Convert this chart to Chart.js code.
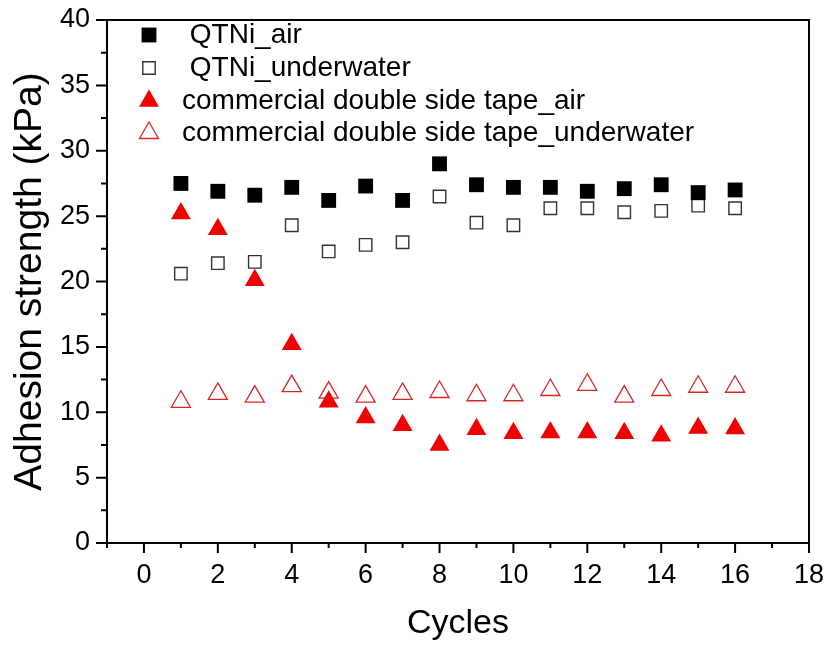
<!DOCTYPE html>
<html>
<head>
<meta charset="utf-8">
<title>Adhesion strength vs cycles</title>
<script src="https://cdn.jsdelivr.net/npm/chart.js@4.4.1/dist/chart.umd.min.js"></script>
<style>
  html, body { margin: 0; padding: 0; background: #fff; }
  #wrap { width: 829px; height: 648px; position: relative; }
</style>
</head>
<body>
<div id="wrap"><canvas id="adhesionChart"></canvas></div>
<script>
// Adhesion strength over repeated cycles, QTNi vs commercial tape
const cycles = [1, 2, 3, 4, 5, 6, 7, 8, 9, 10, 11, 12, 13, 14, 15, 16];
const qtniAir = [27.5, 26.9, 26.6, 27.2, 26.2, 27.3, 26.2, 29.0, 27.4, 27.2, 27.2, 26.9, 27.1, 27.4, 26.8, 27.0];
const qtniUnderwater = [20.6, 21.4, 21.5, 24.3, 22.3, 22.8, 23.0, 26.5, 24.5, 24.3, 25.6, 25.6, 25.3, 25.4, 25.8, 25.6];
const tapeAir = [25.2, 24.0, 20.1, 15.2, 10.8, 9.6, 9.0, 7.5, 8.7, 8.4, 8.45, 8.45, 8.4, 8.2, 8.8, 8.75];
const tapeUnderwater = [10.8, 11.4, 11.2, 12.0, 11.5, 11.2, 11.4, 11.55, 11.3, 11.3, 11.7, 12.1, 11.2, 11.7, 11.95, 11.95];

const xTicks = [0, 2, 4, 6, 8, 10, 12, 14, 16, 18];
const yTicks = [0, 5, 10, 15, 20, 25, 30, 35, 40];

const FONT = "'Liberation Sans', Arial, sans-serif";
const RED = '#f00000';

function toPoints(values) {
  return cycles.map((c, i) => ({ x: c, y: values[i] }));
}

// marker shapes, same geometry Chart.js uses for its point styles
function drawMarker(ctx, ds, x, y) {
  const r = ds.pointRadius;
  ctx.save();
  ctx.beginPath();
  if (ds.pointStyle === 'rect') {
    const s = r * Math.SQRT1_2;
    ctx.rect(x - s, y - s, 2 * s, 2 * s);
  } else {
    let a = 0;
    ctx.moveTo(x + Math.sin(a) * r, y - Math.cos(a) * r);
    a += 2 * Math.PI / 3;
    ctx.lineTo(x + Math.sin(a) * r, y - Math.cos(a) * r);
    a += 2 * Math.PI / 3;
    ctx.lineTo(x + Math.sin(a) * r, y - Math.cos(a) * r);
    ctx.closePath();
  }
  if (ds.backgroundColor && ds.backgroundColor !== 'transparent') {
    ctx.fillStyle = ds.backgroundColor;
    ctx.fill();
  }
  if (ds.borderWidth > 0) {
    ctx.lineWidth = ds.borderWidth;
    ctx.strokeStyle = ds.borderColor;
    ctx.stroke();
  }
  ctx.restore();
}

// box frame plus outward major/minor ticks
const frameTicks = {
  id: 'frameTicks',
  afterDatasetsDraw(chart) {
    const { ctx, chartArea: a, scales: { x, y } } = chart;
    ctx.save();
    ctx.strokeStyle = '#000';
    ctx.lineWidth = 2;
    ctx.strokeRect(a.left, a.top, a.right - a.left, a.bottom - a.top);
    ctx.beginPath();
    for (let v = -1; v <= 18; v++) {
      const px = x.getPixelForValue(v);
      const len = v % 2 === 0 ? 10 : 5;
      ctx.moveTo(px, a.bottom);
      ctx.lineTo(px, a.bottom + len);
    }
    for (let v = 0; v <= 40; v += 2.5) {
      const py = y.getPixelForValue(v);
      const len = v % 5 === 0 ? 11 : 6;
      ctx.moveTo(a.left, py);
      ctx.lineTo(a.left - len, py);
    }
    ctx.stroke();
    ctx.restore();
  }
};

// legend in the upper-left corner of the plot
const insetLegend = {
  id: 'insetLegend',
  afterDatasetsDraw(chart) {
    const { ctx } = chart;
    const rows = [35, 68, 101, 133];
    ctx.save();
    ctx.font = '28px ' + FONT;
    ctx.fillStyle = '#000';
    ctx.textBaseline = 'middle';
    ctx.textAlign = 'left';
    chart.data.datasets.forEach((ds, i) => {
      drawMarker(ctx, ds, 149, rows[i]);
      ctx.fillText(ds.label, 182, rows[i]);
    });
    ctx.restore();
  }
};

const ctx = document.getElementById('adhesionChart').getContext('2d');
new Chart(ctx, {
  type: 'scatter',
  data: {
    datasets: [
      {
        label: ' QTNi_air',
        data: toPoints(qtniAir),
        pointStyle: 'rect',
        pointRadius: 10.5,
        backgroundColor: '#000',
        borderColor: '#000',
        borderWidth: 0
      },
      {
        label: ' QTNi_underwater',
        data: toPoints(qtniUnderwater),
        pointStyle: 'rect',
        pointRadius: 8.8,
        backgroundColor: 'transparent',
        borderColor: '#333',
        borderWidth: 1.4
      },
      {
        label: 'commercial double side tape_air',
        data: toPoints(tapeAir),
        pointStyle: 'triangle',
        pointRadius: 11.5,
        backgroundColor: RED,
        borderColor: RED,
        borderWidth: 0
      },
      {
        label: 'commercial double side tape_underwater',
        data: toPoints(tapeUnderwater),
        pointStyle: 'triangle',
        pointRadius: 11,
        backgroundColor: 'transparent',
        borderColor: '#d42828',
        borderWidth: 1.3
      }
    ]
  },
  options: {
    responsive: true,
    maintainAspectRatio: false,
    animation: false,
    layout: { padding: { top: 20, right: 20, left: 0, bottom: 0 } },
    plugins: {
      legend: { display: false },
      tooltip: { enabled: false }
    },
    scales: {
      x: {
        type: 'linear',
        min: -1,
        max: 18,
        afterBuildTicks: scale => { scale.ticks = xTicks.map(v => ({ value: v })); },
        afterFit: scale => {
          scale.height = 105;
          scale.paddingLeft = 0;
          scale.paddingRight = 0;
        },
        grid: { display: false, drawTicks: false },
        border: { display: false },
        ticks: {
          color: '#000',
          padding: 16,
          maxRotation: 0,
          autoSkip: false,
          font: { family: FONT, size: 27 }
        },
        title: {
          display: true,
          text: 'Cycles',
          color: '#000',
          padding: { top: 0, bottom: 4 },
          font: { family: FONT, size: 34 }
        }
      },
      y: {
        type: 'linear',
        min: 0,
        max: 40,
        afterBuildTicks: scale => { scale.ticks = yTicks.map(v => ({ value: v })); },
        afterFit: scale => {
          scale.width = 107;
          scale.paddingTop = 0;
          scale.paddingBottom = 0;
        },
        grid: { display: false, drawTicks: false },
        border: { display: false },
        ticks: {
          color: '#000',
          padding: 17,
          autoSkip: false,
          font: { family: FONT, size: 27 }
        },
        title: {
          display: true,
          text: 'Adhesion strength (kPa)',
          color: '#000',
          padding: { top: 7, bottom: 0 },
          font: { family: FONT, size: 39 }
        }
      }
    }
  },
  plugins: [frameTicks, insetLegend]
});
</script>
</body>
</html>
